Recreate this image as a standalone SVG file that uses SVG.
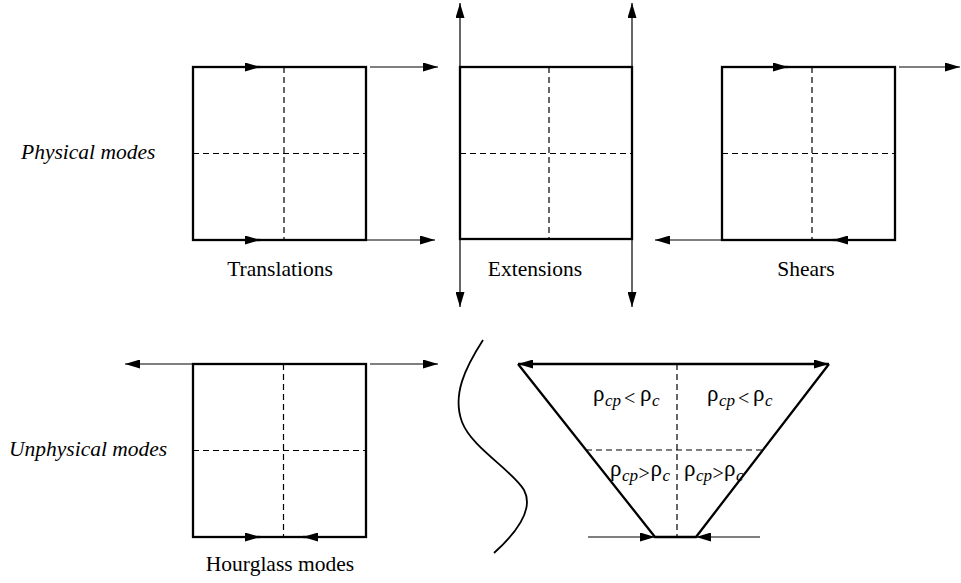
<svg xmlns="http://www.w3.org/2000/svg" width="961" height="583" viewBox="0 0 961 583">
<style>
.edge{fill:none;stroke:#000;stroke-width:2.3}
.thin{fill:none;stroke:#000;stroke-width:1.2}
.dash{fill:none;stroke:#000;stroke-width:1.2;stroke-dasharray:6,4}
.lbl{font-family:"Liberation Serif","Times New Roman",serif;font-size:21.5px;fill:#000}
.it{font-style:italic}
.rl{font-family:"Liberation Serif","Times New Roman",serif;font-size:22px;fill:#000}
.rho{font-size:23px;font-style:normal}
.sub{font-style:italic;font-size:17px}
.op{font-size:20px;font-style:normal}
</style>
<defs>
<marker id="ah" markerUnits="userSpaceOnUse" markerWidth="15" markerHeight="9" refX="15" refY="4.5" orient="auto-start-reverse" viewBox="0 0 15 9">
<path d="M0,0 L15,4.5 L0,9 z" fill="#000"/>
</marker>
</defs>
<rect width="961" height="583" fill="#fff"/>

<g id="labels">
<text class="lbl it" x="21" y="159">Physical modes</text>
<text class="lbl it" x="9" y="456">Unphysical modes</text>
</g>

<g id="translations">
<rect class="edge" x="193" y="67" width="173" height="173"/>
<path class="dash" d="M284,67 V240 M193,153.5 H366"/>
<text class="lbl" x="280" y="276" text-anchor="middle">Translations</text>
</g>

<g id="extensions">
<rect class="edge" x="460" y="67" width="172" height="172"/>
<path class="dash" d="M549,67 V239 M460,153.5 H632"/>
<text class="lbl" x="535" y="276" text-anchor="middle">Extensions</text>
</g>

<g id="shears">
<rect class="edge" x="722" y="67" width="173" height="173"/>
<path class="dash" d="M812,67 V240 M722,153.5 H895"/>
<text class="lbl" x="806" y="276" text-anchor="middle">Shears</text>
</g>

<g id="hourglass">
<rect class="edge" x="193" y="364" width="173" height="173"/>
<path class="dash" d="M283.5,364 V537 M193,450.5 H366"/>
<text class="lbl" x="280" y="571" text-anchor="middle">Hourglass modes</text>
</g>

<g id="trapezoid">
<path class="edge" d="M518,364 L655,537 L696,537 L829,364"/>
<path class="dash" d="M677,364 V537 M586,450 H763"/>
<text class="rl" id="rho-top-left"><tspan class="rho" x="593" y="401">ρ</tspan><tspan class="sub" x="605" y="406">cp</tspan><tspan class="op" x="624" y="405">&lt;</tspan><tspan class="rho" x="640" y="401">ρ</tspan><tspan class="sub" x="652" y="406">c</tspan></text>
<text class="rl" id="rho-top-right"><tspan class="rho" x="707" y="401">ρ</tspan><tspan class="sub" x="719" y="406">cp</tspan><tspan class="op" x="738" y="405">&lt;</tspan><tspan class="rho" x="753" y="401">ρ</tspan><tspan class="sub" x="765" y="406">c</tspan></text>
<text class="rl" id="rho-bottom-left"><tspan class="rho" x="610" y="476">ρ</tspan><tspan class="sub" x="622" y="481">cp</tspan><tspan class="op" x="638.5" y="480">&gt;</tspan><tspan class="rho" x="650.5" y="476">ρ</tspan><tspan class="sub" x="662.5" y="481">c</tspan></text>
<text class="rl" id="rho-bottom-right"><tspan class="rho" x="684" y="476">ρ</tspan><tspan class="sub" x="696" y="481">cp</tspan><tspan class="op" x="712.5" y="480">&gt;</tspan><tspan class="rho" x="724" y="476">ρ</tspan><tspan class="sub" x="736" y="481">c</tspan></text>
</g>

<g id="wave">
<path fill="none" stroke="#000" stroke-width="1.8" d="M483,340 C465,368 452,395 462,422 C472,448 512,470 524,490 C532,505 525,525 494,553"/>
</g>

<g id="connectors">
<path class="edge" marker-end="url(#ah)" d="M245,67 H260"/>
<path class="edge" marker-end="url(#ah)" d="M245,240 H260"/>
<path class="thin" marker-end="url(#ah)" d="M370,67 H438"/>
<path class="thin" marker-end="url(#ah)" d="M366,240 H435"/>
<path class="thin" marker-start="url(#ah)" marker-end="url(#ah)" d="M460,3 V307"/>
<path class="thin" marker-start="url(#ah)" marker-end="url(#ah)" d="M632,3 V307"/>
<path class="edge" marker-end="url(#ah)" d="M773,67 H788"/>
<path class="edge" marker-end="url(#ah)" d="M848,240 H833"/>
<path class="thin" marker-end="url(#ah)" d="M899,67 H960"/>
<path class="thin" marker-end="url(#ah)" d="M722,240 H655"/>
<path class="thin" marker-end="url(#ah)" d="M193,364 H125"/>
<path class="thin" marker-end="url(#ah)" d="M370,364 H438"/>
<path class="edge" marker-end="url(#ah)" d="M245,537 H260"/>
<path class="edge" marker-end="url(#ah)" d="M318,537 H303"/>
<path class="edge" marker-start="url(#ah)" marker-end="url(#ah)" d="M518,364 H829"/>
<path class="thin" marker-end="url(#ah)" d="M588,537 H655"/>
<path class="thin" marker-end="url(#ah)" d="M760,537 H696"/>
</g>
</svg>
